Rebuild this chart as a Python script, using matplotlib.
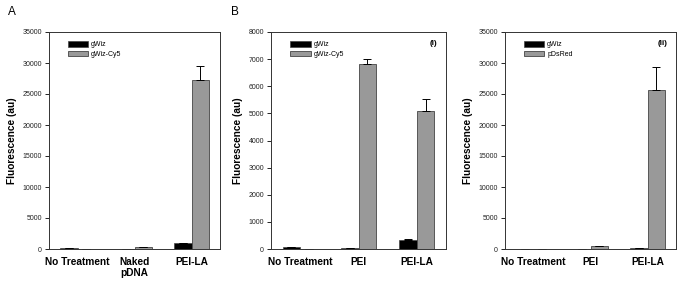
import matplotlib
matplotlib.use("Agg")
import matplotlib.pyplot as plt
import numpy as np

plt.rcParams['font.family'] = ['Liberation Sans', 'DejaVu Sans']

# Panel A
cats_a = ["No Treatment", "Naked\npDNA", "PEI-LA"]
a_gwiz = [100, 0, 900]
a_gwiz_err = [0, 0, 0]
a_cy5 = [0, 300, 27300]
a_cy5_err = [0, 0, 2200]

# Panel B (i)
cats_b = ["No Treatment", "PEI", "PEI-LA"]
b_gwiz = [60, 40, 340]
b_gwiz_err = [0, 0, 40]
b_cy5 = [0, 6820, 5080]
b_cy5_err = [0, 200, 450]

# Panel B (ii)
cats_c = ["No Treatment", "PEI", "PEI-LA"]
c_gwiz = [50, 80, 150]
c_gwiz_err = [0, 0, 0]
c_red = [0, 450, 25700]
c_red_err = [0, 50, 3700]

W, H = 681, 284
fig = plt.figure(figsize=(W/100, H/100), dpi=100)

def px_axes(left, right, top, bottom):
    return fig.add_axes([left/W, 1-bottom/H, (right-left)/W, (bottom-top)/H])

def draw(ax, cats, s1, e1, s2, e2, labels, ymax, yticks, tag=None):
    x = np.arange(len(cats))
    w = 0.3
    ek = dict(ecolor='black', elinewidth=0.7, capsize=3, capthick=0.7)
    ax.bar(x - w/2, s1, w, color='black', edgecolor='#444444', linewidth=0.5,
           label=labels[0], yerr=[np.zeros(len(e1)), e1], error_kw=ek)
    ax.bar(x + w/2, s2, w, color='#999999', edgecolor='#444444', linewidth=0.6,
           label=labels[1], yerr=[np.zeros(len(e2)), e2], error_kw=ek)
    ax.set_xlim(-0.5, len(cats)-0.5)
    ax.set_ylim(0, ymax)
    ax.set_yticks(yticks)
    ax.set_yticklabels([str(t) for t in yticks], fontsize=5.0, color='#222222')
    ax.set_xticks(x)
    ax.set_xticklabels(cats, fontsize=7.3, fontweight='bold', linespacing=1.1)
    ax.tick_params(axis='x', length=0, pad=6)
    ax.tick_params(axis='y', direction='out', length=3, width=0.6, pad=2)
    ax.set_ylabel("Fluorescence (au)", fontsize=7.3, fontweight='bold', labelpad=4)
    for s in ax.spines.values():
        s.set_linewidth(0.7)
        s.set_color('#333333')
    leg = ax.legend(loc='upper left', bbox_to_anchor=(0.08, 0.98), frameon=False,
                    fontsize=5.0, handlelength=3.0, handleheight=0.9,
                    handletextpad=0.4, labelspacing=0.3, borderaxespad=0.3)
    if tag:
        ax.text(0.95, 0.965, tag, transform=ax.transAxes, ha='right', va='top',
                fontsize=5.8, fontweight='bold')

axA = px_axes(49, 220, 32, 249)
draw(axA, cats_a, a_gwiz, a_gwiz_err, a_cy5, a_cy5_err, ["gWiz", "gWiz-Cy5"],
     35000, [0, 5000, 10000, 15000, 20000, 25000, 30000, 35000])
axB = px_axes(271, 446, 32, 249)
draw(axB, cats_b, b_gwiz, b_gwiz_err, b_cy5, b_cy5_err, ["gWiz", "gWiz-Cy5"],
     8000, [0, 1000, 2000, 3000, 4000, 5000, 6000, 7000, 8000], tag="(i)")
axC = px_axes(505, 676, 32, 249)
draw(axC, cats_c, c_gwiz, c_gwiz_err, c_red, c_red_err, ["gWiz", "pDsRed"],
     35000, [0, 5000, 10000, 15000, 20000, 25000, 30000, 35000], tag="(ii)")

fig.text(8/W, 1-12/H, "A", fontsize=8.5, va='center', ha='left')
fig.text(231/W, 1-12/H, "B", fontsize=8.5, va='center', ha='left')

fig.savefig("out.png", dpi=100)
